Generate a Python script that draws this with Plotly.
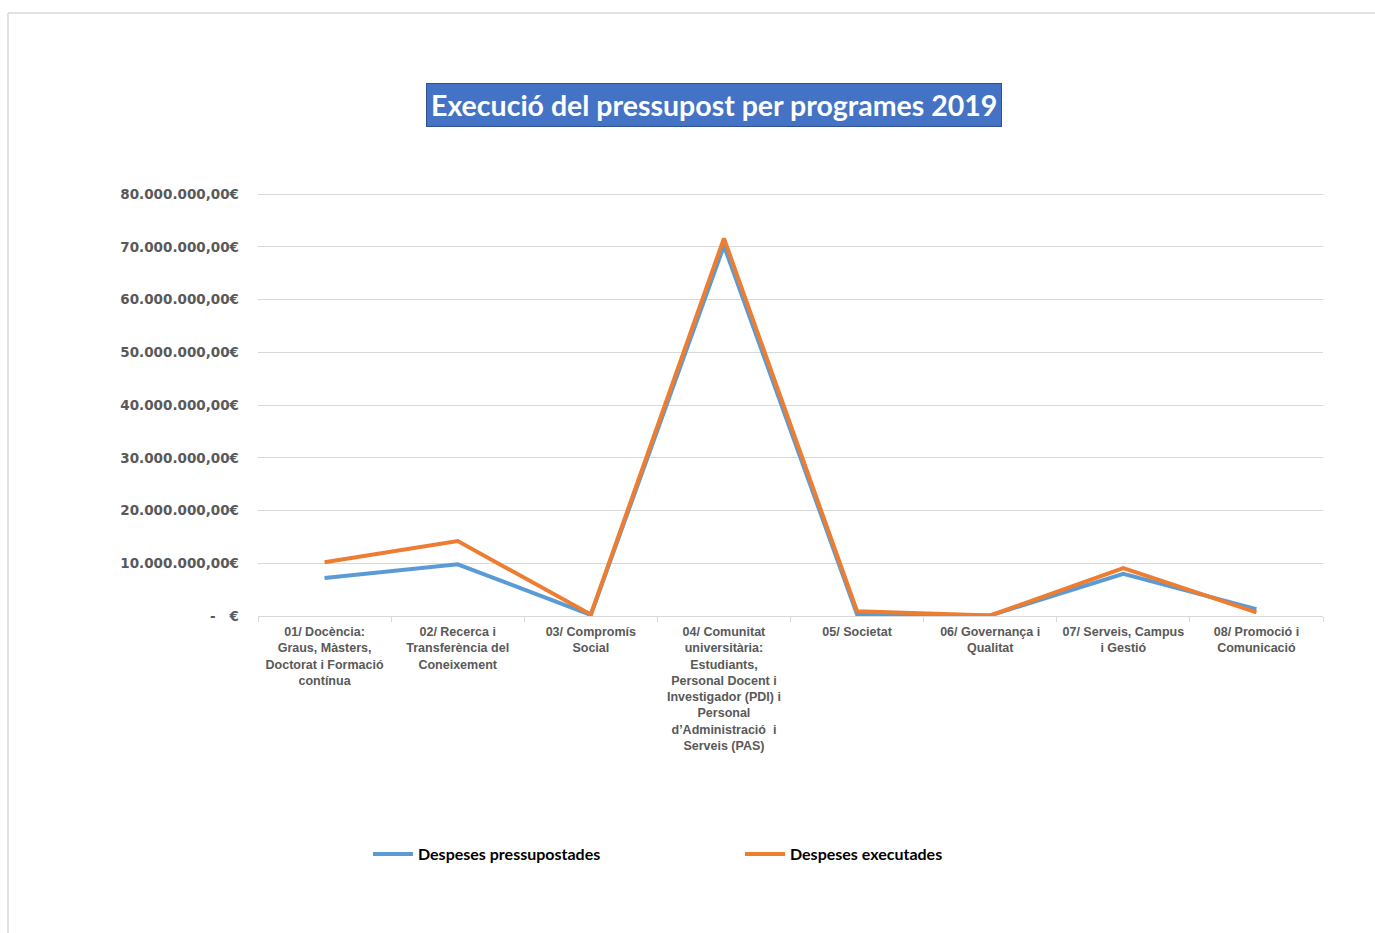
import plotly.graph_objects as go

categories = [
    "01/ Docència:<br>Graus, Màsters,<br>Doctorat i Formació<br>contínua",
    "02/ Recerca i<br>Transferència del<br>Coneixement",
    "03/ Compromís<br>Social",
    "04/ Comunitat<br>universitària:<br>Estudiants,<br>Personal Docent i<br>Investigador (PDI) i<br>Personal<br>d’Administració  i<br>Serveis (PAS)",
    "05/ Societat",
    "06/ Governança i<br>Qualitat",
    "07/ Serveis, Campus<br>i Gestió",
    "08/ Promoció i<br>Comunicació",
]
pressupostades = [7200000, 9800000, 200000, 70200000, 300000, 100000, 8000000, 1300000]
executades = [10200000, 14200000, 300000, 71600000, 900000, 100000, 9100000, 700000]

tick_vals = [0, 10000000, 20000000, 30000000, 40000000, 50000000, 60000000, 70000000, 80000000]
tick_text = ["-   €", "10.000.000,00€", "20.000.000,00€", "30.000.000,00€", "40.000.000,00€",
             "50.000.000,00€", "60.000.000,00€", "70.000.000,00€", "80.000.000,00€"]

W, H = 1375, 933
L, R, T, B = 258, 1323, 193, 616

def px(x):
    return (x - L) / (R - L)

def py(y):
    return (B - y) / (B - T)

fig = go.Figure()
fig.add_trace(go.Scatter(x=categories, y=pressupostades, mode="lines", name="Despeses pressupostades",
                         line=dict(color="#5B9BD5", width=4)))
fig.add_trace(go.Scatter(x=categories, y=executades, mode="lines", name="Despeses executades",
                         line=dict(color="#ED7D31", width=4)))

fig.update_layout(
    width=W, height=H,
    margin=dict(l=L, r=W - R, t=T, b=H - B),
    plot_bgcolor="white", paper_bgcolor="white",
    font=dict(family="Liberation Sans, Arial", color="#595959"),
    showlegend=True,
    legend=dict(orientation="h", x=px(368), y=py(854), xanchor="left", yanchor="middle",
                font=dict(family="Lato", size=16, color="black", weight="bold"),
                entrywidth=317, entrywidthmode="pixels", itemwidth=40,
                bgcolor="rgba(0,0,0,0)"),
    xaxis=dict(type="category", range=[-0.5, 7.5], showgrid=False, showline=True,
               linecolor="#D9D9D9", linewidth=1, ticks="outside", tickson="boundaries",
               ticklen=5, tickcolor="#D9D9D9", ticklabelstandoff=4,
               tickfont=dict(size=12.5, color="#595959", family="Liberation Sans, Arial", weight="bold"),
               tickangle=0, fixedrange=True),
    yaxis=dict(range=[0, 80200000], tickvals=tick_vals, ticktext=tick_text,
               showgrid=True, gridcolor="#D9D9D9", gridwidth=1, zeroline=False,
               showline=False, ticklabelstandoff=18,
               tickfont=dict(size=13.5, color="#595959", family="DejaVu Sans", weight="bold")),
)

fig.add_annotation(
    text="<b>Execució del pressupost per programes 2019</b>",
    xref="paper", yref="paper", x=px(713.5), y=py(105), xanchor="center", yanchor="middle",
    showarrow=False, font=dict(family="Lato", size=28.5, color="white"),
    bgcolor="#4472C4", bordercolor="#2F528F", borderwidth=1, borderpad=4,
)

# outer frame
fig.add_shape(type="line", xref="paper", yref="paper", x0=px(8), x1=px(1375), y0=py(13), y1=py(13),
              line=dict(color="#D9D9D9", width=1.5))
fig.add_shape(type="line", xref="paper", yref="paper", x0=px(8), x1=px(8), y0=py(13), y1=py(933),
              line=dict(color="#D9D9D9", width=1.5))

fig.write_html("out.html")
